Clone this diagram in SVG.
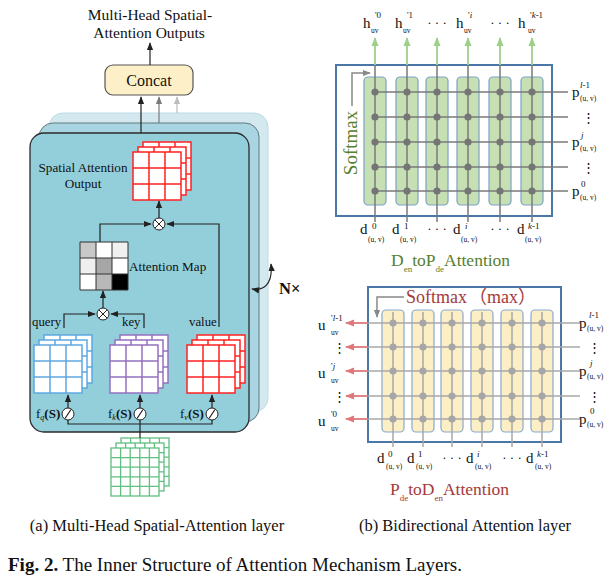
<svg xmlns="http://www.w3.org/2000/svg" xmlns:xlink="http://www.w3.org/1999/xlink" width="616" height="581" viewBox="0 0 616 581">
<style>
text{font-family:"Liberation Serif","Noto Sans CJK SC",serif;fill:#111}
.ln{fill:none;stroke:#222;stroke-width:1.2}
.g1{stroke:#7a7a7a;stroke-width:1.5;fill:none}
.g2{stroke:#a8a8a8;stroke-width:1.5;fill:none}
.sup{font-size:9px}
.sub{font-size:7.5px}
.big{font-size:15px}
.op{fill:#fff;stroke:#222;stroke-width:1}
</style>
<defs>
<marker id="a1" viewBox="0 0 10 10" refX="9" refY="5" markerWidth="8" markerHeight="8" markerUnits="userSpaceOnUse" orient="auto-start-reverse"><path d="M0,1L10,5L0,9z" fill="#222"/></marker>
<marker id="a2" viewBox="0 0 10 10" refX="9" refY="5" markerWidth="8" markerHeight="8" markerUnits="userSpaceOnUse" orient="auto"><path d="M0,1L10,5L0,9z" fill="#7a7a7a"/></marker>
<marker id="a3" viewBox="0 0 10 10" refX="9" refY="5" markerWidth="8" markerHeight="8" markerUnits="userSpaceOnUse" orient="auto"><path d="M0,1L10,5L0,9z" fill="#bdbdbd"/></marker>
<marker id="ag" viewBox="0 0 10 10" refX="9" refY="5" markerWidth="9" markerHeight="9" markerUnits="userSpaceOnUse" orient="auto"><path d="M0,1L10,5L0,9z" fill="#9fd08a"/></marker>
<marker id="ar" viewBox="0 0 10 10" refX="9" refY="5" markerWidth="9" markerHeight="9" markerUnits="userSpaceOnUse" orient="auto"><path d="M0,1L10,5L0,9z" fill="#e0787a"/></marker>
<marker id="as" viewBox="0 0 10 10" refX="9" refY="5" markerWidth="8" markerHeight="8" markerUnits="userSpaceOnUse" orient="auto"><path d="M0,1L10,5L0,9z" fill="#888"/></marker>
<g id="g3"><rect width="48" height="48" fill="#fff"/><path d="M16 0V48M32 0V48M0 16H48M0 32H48" fill="none"/></g>
<g id="g5"><rect width="48" height="48" fill="#fff"/><path d="M9.6 0V48M19.2 0V48M28.8 0V48M38.4 0V48M0 9.6H48M0 19.2H48M0 28.8H48M0 38.4H48" fill="none"/></g>
<g id="c3"><use xlink:href="#g3" x="10" y="-10"/><use xlink:href="#g3" x="5" y="-5"/><use xlink:href="#g3"/></g>
<g id="c5"><use xlink:href="#g5" x="10" y="-10"/><use xlink:href="#g5" x="5" y="-5"/><use xlink:href="#g5"/></g>
<g id="otimes"><circle r="6" class="op"/><path d="M-4.2-4.2L4.2 4.2M-4.2 4.2L4.2-4.2" stroke="#222" stroke-width="1"/></g>
<g id="slash"><circle r="6" class="op"/><path d="M-3 4.5L3-4.5" stroke="#222" stroke-width="1.2"/></g>
</defs>

<!-- ===== Left panel (a) ===== -->
<g id="title-a">
<text x="150" y="20" font-size="15.5" text-anchor="middle">Multi-Head Spatial-</text>
<text x="149" y="38" font-size="15.5" text-anchor="middle">Attention Outputs</text>
</g>
<g id="concat">
<rect x="105" y="65" width="88" height="30" rx="8" fill="#fdf0c8" stroke="#555" stroke-width="1.2"/>
<text x="149" y="86" font-size="16" text-anchor="middle">Concat</text>
</g>
<g id="heads">
<rect x="49" y="113" width="219" height="299" rx="14" fill="#d3e9ef" stroke="#bcdce5" stroke-width="1"/>
<rect x="39" y="123" width="220" height="299" rx="14" fill="#a8d5e1" stroke="#60797f" stroke-width="1"/>
<rect x="30" y="133" width="219" height="299" rx="14" fill="#93cedb" stroke="#2b2b2b" stroke-width="1.3"/>
</g>
<g id="spatial-output">
<use xlink:href="#c3" x="133" y="152" stroke="#ff2222" stroke-width="1.5"/>
<text x="83" y="172" font-size="13.2" text-anchor="middle">Spatial Attention</text>
<text x="83" y="188" font-size="13.2" text-anchor="middle">Output</text>
</g>
<g id="attention-map">
<rect x="80" y="242" width="16" height="16" fill="#c8c8c8"/>
<rect x="96" y="242" width="16" height="16" fill="#ffffff"/>
<rect x="112" y="242" width="16" height="16" fill="#f0f0f0"/>
<rect x="80" y="258" width="16" height="16" fill="#efefef"/>
<rect x="96" y="258" width="16" height="16" fill="#a6a6a6"/>
<rect x="112" y="258" width="16" height="16" fill="#ffffff"/>
<rect x="80" y="274" width="16" height="16" fill="#ffffff"/>
<rect x="96" y="274" width="16" height="16" fill="#b8b8b8"/>
<rect x="112" y="274" width="16" height="16" fill="#000000"/>
<path d="M80 242h48v48h-48zM96 242v48M112 242v48M80 258h48M80 274h48" fill="none" stroke="#333" stroke-width="1"/>
<text x="129" y="271" font-size="13.2">Attention Map</text>
</g>
<g id="query"><use xlink:href="#c3" x="34" y="345" stroke="#5ca8e0" stroke-width="1.5"/><text x="32" y="326" font-size="12.8">query</text></g>
<g id="key"><use xlink:href="#c3" x="110" y="345" stroke="#9470c0" stroke-width="1.5"/><text x="122" y="326" font-size="12.8">key</text></g>
<g id="value"><use xlink:href="#c3" x="187" y="345" stroke="#ff2222" stroke-width="1.5"/><text x="189" y="326" font-size="12.8">value</text></g>
<g id="input-S"><use xlink:href="#c5" x="111" y="448" stroke="#5fbf7f" stroke-width="1.3"/></g>
<g id="ops">
<use xlink:href="#otimes" x="159" y="224"/>
<use xlink:href="#otimes" x="103" y="314"/>
<use xlink:href="#slash" x="68" y="414"/>
<use xlink:href="#slash" x="140" y="414"/>
<use xlink:href="#slash" x="212" y="414"/>
<text x="36" y="418" font-size="13">f<tspan font-size="8" dy="2" font-style="italic">q</tspan><tspan dy="-2" font-weight="bold">(S)</tspan></text>
<text x="108" y="418" font-size="13">f<tspan font-size="8" dy="2" font-style="italic">k</tspan><tspan dy="-2" font-weight="bold">(S)</tspan></text>
<text x="180" y="418" font-size="13">f<tspan font-size="8" dy="2" font-style="italic">v</tspan><tspan dy="-2" font-weight="bold">(S)</tspan></text>
</g>
<g id="connectors-a">
<path class="ln" d="M150 65V43" marker-end="url(#a1)"/>
<path class="ln" d="M141 133V97" marker-end="url(#a1)"/>
<path d="M159 123V97" stroke="#7a7a7a" stroke-width="1.2" marker-end="url(#a2)"/>
<path d="M177 113V97" stroke="#bdbdbd" stroke-width="1.2" marker-end="url(#a3)"/>
<path class="ln" d="M159 218V201" marker-end="url(#a1)"/>
<path class="ln" d="M100 242V224H151" marker-end="url(#a1)"/>
<path class="ln" d="M219 327V224H167" marker-end="url(#a1)"/>
<path class="ln" d="M103 308V291" marker-end="url(#a1)"/>
<path class="ln" d="M64 328V314H95" marker-end="url(#a1)"/>
<path class="ln" d="M144 328V314H111" marker-end="url(#a1)"/>
<path class="ln" d="M68 408V395" marker-end="url(#a1)"/>
<path class="ln" d="M140 408V395" marker-end="url(#a1)"/>
<path class="ln" d="M212 408V395" marker-end="url(#a1)"/>
<path class="ln" d="M68 420V424H212V420M140 420V438"/>
<path class="ln" d="M252 289C263 291 273 285 271 264" marker-start="url(#a1)" marker-end="url(#a1)"/>
</g>
<text x="279" y="294" font-size="16.5" font-weight="bold">N×</text>
<text x="157" y="531" font-size="16.5" text-anchor="middle">(a) Multi-Head Spatial-Attention layer</text>

<!-- ===== Right top: DentoPde ===== -->
<g id="dentopde">
<rect x="336" y="65" width="216" height="151" fill="#fff" stroke="#4a76a8" stroke-width="2"/>
<g fill="#c6e0b4" stroke="#7aa2c8" stroke-width="1.2">
<rect x="364" y="77" width="22" height="128" rx="4"/>
<rect x="396" y="77" width="22" height="128" rx="4"/>
<rect x="426" y="77" width="22" height="128" rx="4"/>
<rect x="457" y="77" width="22" height="128" rx="4"/>
<rect x="489" y="77" width="22" height="128" rx="4"/>
<rect x="521" y="77" width="22" height="128" rx="4"/>
</g>
<path class="g1" d="M375 65V222M407 65V222M437 65V222M468 65V222M500 65V222M532 65V222M375 92H568M375 117H568M375 142H568M375 167H568M375 191H568"/>
<g fill="#757575">
<circle cx="375" cy="92" r="3.6"/><circle cx="407" cy="92" r="3.6"/><circle cx="437" cy="92" r="3.6"/><circle cx="468" cy="92" r="3.6"/><circle cx="500" cy="92" r="3.6"/><circle cx="532" cy="92" r="3.6"/>
<circle cx="375" cy="117" r="3.6"/><circle cx="407" cy="117" r="3.6"/><circle cx="437" cy="117" r="3.6"/><circle cx="468" cy="117" r="3.6"/><circle cx="500" cy="117" r="3.6"/><circle cx="532" cy="117" r="3.6"/>
<circle cx="375" cy="142" r="3.6"/><circle cx="407" cy="142" r="3.6"/><circle cx="437" cy="142" r="3.6"/><circle cx="468" cy="142" r="3.6"/><circle cx="500" cy="142" r="3.6"/><circle cx="532" cy="142" r="3.6"/>
<circle cx="375" cy="167" r="3.6"/><circle cx="407" cy="167" r="3.6"/><circle cx="437" cy="167" r="3.6"/><circle cx="468" cy="167" r="3.6"/><circle cx="500" cy="167" r="3.6"/><circle cx="532" cy="167" r="3.6"/>
<circle cx="375" cy="191" r="3.6"/><circle cx="407" cy="191" r="3.6"/><circle cx="437" cy="191" r="3.6"/><circle cx="468" cy="191" r="3.6"/><circle cx="500" cy="191" r="3.6"/><circle cx="532" cy="191" r="3.6"/>
</g>
<g stroke="#9fd08a" stroke-width="1.8">
<path d="M375 65V38" marker-end="url(#ag)"/><path d="M407 65V38" marker-end="url(#ag)"/><path d="M437 65V38" marker-end="url(#ag)"/><path d="M468 65V38" marker-end="url(#ag)"/><path d="M500 65V38" marker-end="url(#ag)"/><path d="M532 65V38" marker-end="url(#ag)"/>
</g>
<text transform="translate(357,143) rotate(-90)" font-size="19" text-anchor="middle" style="fill:#56802f">Softmax</text>
<path d="M352 106V73H370" stroke="#888" stroke-width="1.5" fill="none" marker-end="url(#as)"/>
<!-- h labels -->
<g>
<text x="363" y="28" class="big">h</text><text x="375" y="18" class="sup">'0</text><text x="371" y="33" class="sub">uv</text>
<text x="395" y="28" class="big">h</text><text x="407" y="18" class="sup">'1</text><text x="403" y="33" class="sub">uv</text>
<text x="437" y="27" font-size="13" text-anchor="middle">· · ·</text>
<text x="456" y="28" class="big">h</text><text x="468" y="18" class="sup">'<tspan font-style="italic">i</tspan></text><text x="464" y="33" class="sub">uv</text>
<text x="500" y="27" font-size="13" text-anchor="middle">· · ·</text>
<text x="518" y="28" class="big">h</text><text x="530" y="18" class="sup">'<tspan font-style="italic">k</tspan>-1</text><text x="528" y="33" class="sub">uv</text>
</g>
<!-- p labels -->
<g>
<text x="572" y="97" class="big">p</text><text x="580" y="88" class="sup"><tspan font-style="italic">l</tspan>-1</text><text x="580" y="101" class="sub">(u, v)</text>
<text x="582" y="122" font-size="13" font-family="DejaVu Serif">⋮</text>
<text x="572" y="147" class="big">p</text><text x="581" y="138" class="sup" font-style="italic">j</text><text x="580" y="151" class="sub">(u, v)</text>
<text x="582" y="172" font-size="13" font-family="DejaVu Serif">⋮</text>
<text x="572" y="196" class="big">p</text><text x="581" y="187" class="sup">0</text><text x="580" y="200" class="sub">(u, v)</text>
</g>
<!-- d labels -->
<g>
<text x="360" y="234" class="big">d</text><text x="372" y="229" class="sup">0</text><text x="368" y="242" class="sub">(u, v)</text>
<text x="392" y="234" class="big">d</text><text x="404" y="229" class="sup">1</text><text x="400" y="242" class="sub">(u, v)</text>
<text x="437" y="233" font-size="13" text-anchor="middle">· · ·</text>
<text x="453" y="234" class="big">d</text><text x="465" y="229" class="sup" font-style="italic">i</text><text x="461" y="242" class="sub">(u, v)</text>
<text x="500" y="233" font-size="13" text-anchor="middle">· · ·</text>
<text x="517" y="234" class="big">d</text><text x="528" y="229" class="sup"><tspan font-style="italic">k</tspan>-1</text><text x="525" y="242" class="sub">(u, v)</text>
</g>
<text x="391" y="266" font-size="17.5" style="fill:#56802f">D<tspan font-size="9" dy="6">en</tspan><tspan dy="-6">toP</tspan><tspan font-size="9" dy="6">de</tspan><tspan dy="-6">Attention</tspan></text>
</g>

<!-- ===== Right bottom: PdetoDen ===== -->
<g id="pdetoden">
<rect x="368" y="287" width="193" height="155" fill="#fff" stroke="#4a76a8" stroke-width="2"/>
<g fill="#fdefc5" stroke="#86aad0" stroke-width="1.2">
<rect x="382" y="310" width="22" height="122" rx="4"/>
<rect x="412" y="310" width="22" height="122" rx="4"/>
<rect x="441" y="310" width="22" height="122" rx="4"/>
<rect x="471" y="310" width="22" height="122" rx="4"/>
<rect x="501" y="310" width="22" height="122" rx="4"/>
<rect x="531" y="310" width="22" height="122" rx="4"/>
</g>
<path class="g2" d="M393 312V447M423 312V447M452 312V447M482 312V447M512 312V447M542 312V447M368 323H580M368 347H580M368 371H580M368 396H580M368 419H580"/>
<g fill="#a6a6a6">
<circle cx="393" cy="323" r="3.6"/><circle cx="423" cy="323" r="3.6"/><circle cx="452" cy="323" r="3.6"/><circle cx="482" cy="323" r="3.6"/><circle cx="512" cy="323" r="3.6"/><circle cx="542" cy="323" r="3.6"/>
<circle cx="393" cy="347" r="3.6"/><circle cx="423" cy="347" r="3.6"/><circle cx="452" cy="347" r="3.6"/><circle cx="482" cy="347" r="3.6"/><circle cx="512" cy="347" r="3.6"/><circle cx="542" cy="347" r="3.6"/>
<circle cx="393" cy="371" r="3.6"/><circle cx="423" cy="371" r="3.6"/><circle cx="452" cy="371" r="3.6"/><circle cx="482" cy="371" r="3.6"/><circle cx="512" cy="371" r="3.6"/><circle cx="542" cy="371" r="3.6"/>
<circle cx="393" cy="396" r="3.6"/><circle cx="423" cy="396" r="3.6"/><circle cx="452" cy="396" r="3.6"/><circle cx="482" cy="396" r="3.6"/><circle cx="512" cy="396" r="3.6"/><circle cx="542" cy="396" r="3.6"/>
<circle cx="393" cy="419" r="3.6"/><circle cx="423" cy="419" r="3.6"/><circle cx="452" cy="419" r="3.6"/><circle cx="482" cy="419" r="3.6"/><circle cx="512" cy="419" r="3.6"/><circle cx="542" cy="419" r="3.6"/>
</g>
<g stroke="#e0787a" stroke-width="1.8">
<path d="M368 323H346" marker-end="url(#ar)"/><path d="M368 347H346" marker-end="url(#ar)"/><path d="M368 371H346" marker-end="url(#ar)"/><path d="M368 396H346" marker-end="url(#ar)"/><path d="M368 419H346" marker-end="url(#ar)"/>
</g>
<text x="406" y="303" font-size="18" style="fill:#a33a3a">Softmax<tspan dx="2">（max）</tspan></text>
<path d="M404 297H377V317" stroke="#888" stroke-width="1.5" fill="none" marker-end="url(#as)"/>
<!-- u labels -->
<g>
<text x="318" y="330" class="big">u</text><text x="331" y="321" class="sup">'<tspan font-style="italic">l</tspan>-1</text><text x="331" y="335" class="sub">uv</text>
<text x="333" y="352" font-size="13" font-family="DejaVu Serif">⋮</text>
<text x="318" y="378" class="big">u</text><text x="331" y="369" class="sup">'<tspan font-style="italic">j</tspan></text><text x="331" y="383" class="sub">uv</text>
<text x="333" y="401" font-size="13" font-family="DejaVu Serif">⋮</text>
<text x="318" y="426" class="big">u</text><text x="331" y="417" class="sup">'0</text><text x="331" y="431" class="sub">uv</text>
</g>
<!-- p labels -->
<g>
<text x="579" y="328" class="big">p</text><text x="589" y="318" class="sup"><tspan font-style="italic">l</tspan>-1</text><text x="587" y="331" class="sub">(u, v)</text>
<text x="588" y="352" font-size="13" font-family="DejaVu Serif">⋮</text>
<text x="579" y="376" class="big">p</text><text x="590" y="366" class="sup" font-style="italic">j</text><text x="587" y="379" class="sub">(u, v)</text>
<text x="588" y="401" font-size="13" font-family="DejaVu Serif">⋮</text>
<text x="579" y="424" class="big">p</text><text x="590" y="414" class="sup">0</text><text x="587" y="427" class="sub">(u, v)</text>
</g>
<!-- d labels -->
<g>
<text x="377" y="463" class="big">d</text><text x="388" y="457" class="sup">0</text><text x="386" y="469" class="sub">(u, v)</text>
<text x="407" y="463" class="big">d</text><text x="418" y="457" class="sup">1</text><text x="416" y="469" class="sub">(u, v)</text>
<text x="452" y="462" font-size="13" text-anchor="middle">· · ·</text>
<text x="466" y="463" class="big">d</text><text x="477" y="457" class="sup" font-style="italic">i</text><text x="475" y="469" class="sub">(u, v)</text>
<text x="512" y="462" font-size="13" text-anchor="middle">· · ·</text>
<text x="526" y="463" class="big">d</text><text x="537" y="457" class="sup"><tspan font-style="italic">k</tspan>-1</text><text x="535" y="469" class="sub">(u, v)</text>
</g>
<text x="390" y="495" font-size="17.5" style="fill:#a33a3a">P<tspan font-size="9" dy="6">de</tspan><tspan dy="-6">toD</tspan><tspan font-size="9" dy="6">en</tspan><tspan dy="-6">Attention</tspan></text>
</g>
<text x="465" y="531" font-size="16.5" text-anchor="middle">(b) Bidirectional Attention layer</text>

<text x="8" y="571" font-size="19"><tspan font-weight="bold">Fig. 2.</tspan> The Inner Structure of Attention Mechanism Layers.</text>
</svg>
